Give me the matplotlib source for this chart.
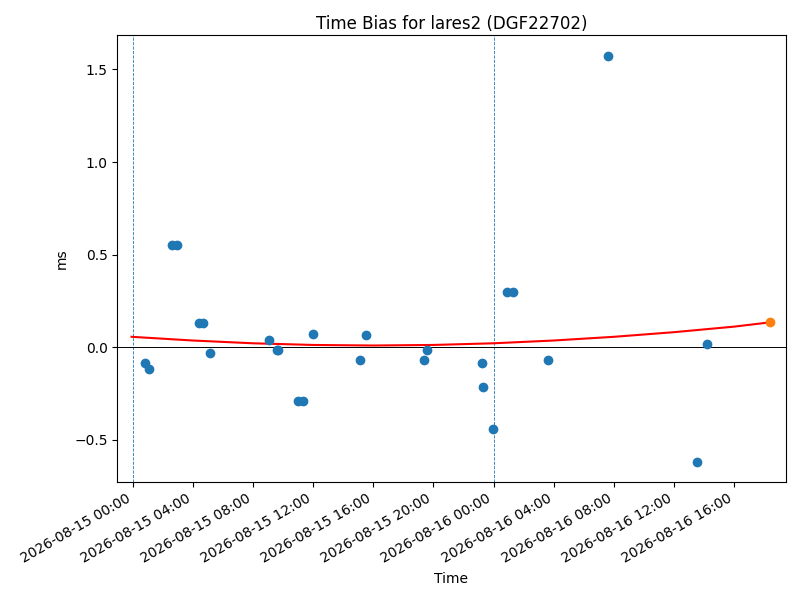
import matplotlib
matplotlib.use("Agg")
import matplotlib.pyplot as plt
import matplotlib.dates as mdates
import numpy as np
from datetime import datetime, timedelta

# measurements, hours after 2026-08-15 00:00
start = datetime(2026, 8, 15)
obs_hours = [0.84, 1.10, 2.61, 2.95, 4.41, 4.68, 5.16, 9.08, 9.59, 9.65,
             10.99, 11.32, 12.01, 15.11, 15.51, 19.39, 19.59, 23.24, 23.31,
             23.98, 24.87, 25.27, 27.63, 31.60, 37.54, 38.20]
obs_bias = [-0.083, -0.116, 0.553, 0.553, 0.130, 0.130, -0.029, 0.038, -0.016, -0.016,
            -0.289, -0.289, 0.070, -0.070, 0.065, -0.070, -0.016, -0.088, -0.217,
            -0.441, 0.297, 0.297, -0.070, 1.575, -0.620, 0.016]

fit_hours = [-0.07, 4, 8, 12, 16, 20, 24, 28, 32, 36, 40, 42.37]
fit_bias = [0.056, 0.036, 0.021, 0.012, 0.009, 0.012, 0.021, 0.036, 0.056, 0.081, 0.111, 0.134]

pred_hour = 42.37
pred_bias = 0.134

midnights = [0, 24]

def to_dt(hours):
    return [start + timedelta(hours=h) for h in hours]

fig, ax = plt.subplots(figsize=(8, 6), dpi=100)
fig.subplots_adjust(left=0.1466, right=0.982, top=0.9417, bottom=0.1967)

for d in to_dt(midnights):
    ax.axvline(d, color="C0", linestyle="--", linewidth=0.6)
ax.axhline(0, color="black", linewidth=0.7)

ax.scatter(to_dt(obs_hours), obs_bias, color="C0", zorder=3)
ax.plot(to_dt(fit_hours), fit_bias, color="red", linewidth=1.5, zorder=2)
ax.scatter(to_dt([pred_hour]), [pred_bias], color="C1", zorder=4)

ax.set_xlim(to_dt([-1.02])[0], to_dt([43.42])[0])
ax.set_ylim(-0.728, 1.686)
ax.xaxis.set_major_locator(mdates.HourLocator(byhour=range(0, 24, 4)))
ax.xaxis.set_major_formatter(mdates.DateFormatter("%Y-%m-%d %H:%M"))
plt.setp(ax.get_xticklabels(), rotation=30, ha="right")

ax.set_title("Time Bias for lares2 (DGF22702)", pad=4.5)
ax.set_xlabel("Time")
ax.set_ylabel("ms")

plt.savefig("out.png")
